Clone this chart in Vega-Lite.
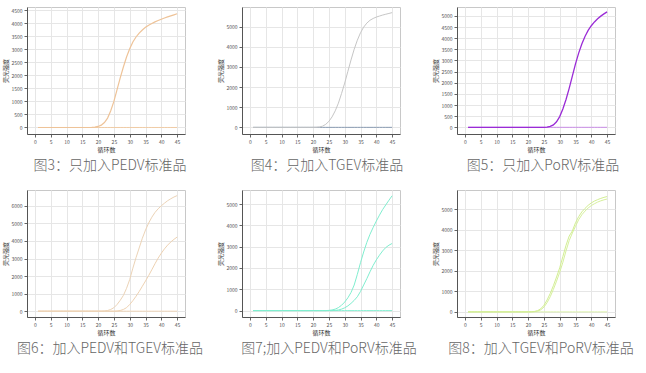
{
  "$schema": "https://vega.github.io/schema/vega-lite/v6.json",
  "background": "white",
  "padding": {"left": 2, "top": 6, "right": 5, "bottom": 5},
  "bounds": "flush",
  "columns": 3,
  "spacing": {"row": 56, "column": 57},
  "data": {"values": [
    {"c":1,"p3":0,"p4":0,"p5":0,"p6a":0,"p6b":0,"p7a":0,"p7b":0,"p8a":0,"p8b":0},
    {"c":2,"p3":0,"p4":0,"p5":0,"p6a":0,"p6b":0,"p7a":0,"p7b":0,"p8a":0,"p8b":0},
    {"c":3,"p3":0,"p4":0,"p5":0,"p6a":0,"p6b":0,"p7a":0,"p7b":0,"p8a":0,"p8b":0},
    {"c":4,"p3":0,"p4":0,"p5":0,"p6a":0,"p6b":0,"p7a":0,"p7b":0,"p8a":0,"p8b":0},
    {"c":5,"p3":0,"p4":0,"p5":0,"p6a":0,"p6b":0,"p7a":0,"p7b":0,"p8a":0,"p8b":0},
    {"c":6,"p3":0,"p4":0,"p5":0,"p6a":0,"p6b":0,"p7a":0,"p7b":0,"p8a":0,"p8b":0},
    {"c":7,"p3":0,"p4":0,"p5":0,"p6a":0,"p6b":0,"p7a":0,"p7b":0,"p8a":0,"p8b":0},
    {"c":8,"p3":0,"p4":0,"p5":0,"p6a":0,"p6b":0,"p7a":0,"p7b":0,"p8a":0,"p8b":0},
    {"c":9,"p3":0,"p4":0,"p5":0,"p6a":0,"p6b":0,"p7a":0,"p7b":0,"p8a":0,"p8b":0},
    {"c":10,"p3":0,"p4":0,"p5":0,"p6a":0,"p6b":0,"p7a":0,"p7b":0,"p8a":0,"p8b":0},
    {"c":11,"p3":0,"p4":0,"p5":0,"p6a":0,"p6b":0,"p7a":0,"p7b":0,"p8a":0,"p8b":0},
    {"c":12,"p3":0,"p4":0,"p5":0,"p6a":0,"p6b":0,"p7a":0,"p7b":0,"p8a":0,"p8b":0},
    {"c":13,"p3":0,"p4":0,"p5":0,"p6a":0,"p6b":0,"p7a":0,"p7b":0,"p8a":0,"p8b":0},
    {"c":14,"p3":0,"p4":0,"p5":0,"p6a":0,"p6b":0,"p7a":0,"p7b":0,"p8a":0,"p8b":0},
    {"c":15,"p3":0,"p4":0,"p5":0,"p6a":0,"p6b":0,"p7a":0,"p7b":0,"p8a":0,"p8b":0},
    {"c":16,"p3":0,"p4":0,"p5":0,"p6a":0,"p6b":0,"p7a":0,"p7b":0,"p8a":0,"p8b":0},
    {"c":17,"p3":0,"p4":0,"p5":0,"p6a":0,"p6b":0,"p7a":0,"p7b":0,"p8a":0,"p8b":0},
    {"c":18,"p3":5,"p4":0,"p5":0,"p6a":0,"p6b":0,"p7a":0,"p7b":0,"p8a":0,"p8b":0},
    {"c":19,"p3":15,"p4":0,"p5":0,"p6a":0,"p6b":0,"p7a":0,"p7b":0,"p8a":0,"p8b":0},
    {"c":20,"p3":40,"p4":0,"p5":0,"p6a":0,"p6b":0,"p7a":0,"p7b":0,"p8a":0,"p8b":0},
    {"c":21,"p3":90,"p4":5,"p5":0,"p6a":0,"p6b":0,"p7a":0,"p7b":0,"p8a":5,"p8b":0},
    {"c":22,"p3":190,"p4":20,"p5":0,"p6a":10,"p6b":0,"p7a":0,"p7b":0,"p8a":20,"p8b":10},
    {"c":23,"p3":360,"p4":60,"p5":0,"p6a":40,"p6b":0,"p7a":0,"p7b":0,"p8a":60,"p8b":35},
    {"c":24,"p3":640,"p4":150,"p5":0,"p6a":100,"p6b":0,"p7a":0,"p7b":0,"p8a":150,"p8b":100},
    {"c":25,"p3":1000,"p4":300,"p5":0,"p6a":200,"p6b":0,"p7a":10,"p7b":0,"p8a":320,"p8b":230},
    {"c":26,"p3":1450,"p4":520,"p5":10,"p6a":380,"p6b":10,"p7a":30,"p7b":0,"p8a":580,"p8b":450},
    {"c":27,"p3":1900,"p4":820,"p5":40,"p6a":620,"p6b":40,"p7a":70,"p7b":10,"p8a":900,"p8b":740},
    {"c":28,"p3":2320,"p4":1200,"p5":110,"p6a":900,"p6b":100,"p7a":140,"p7b":30,"p8a":1280,"p8b":1100},
    {"c":29,"p3":2700,"p4":1680,"p5":250,"p6a":1300,"p6b":200,"p7a":250,"p7b":70,"p8a":1700,"p8b":1500},
    {"c":30,"p3":3020,"p4":2200,"p5":480,"p6a":1800,"p6b":380,"p7a":400,"p7b":130,"p8a":2150,"p8b":1930},
    {"c":31,"p3":3280,"p4":2780,"p5":820,"p6a":2450,"p6b":600,"p7a":600,"p7b":220,"p8a":2700,"p8b":2420},
    {"c":32,"p3":3470,"p4":3350,"p5":1250,"p6a":3050,"p6b":850,"p7a":850,"p7b":340,"p8a":3250,"p8b":2980},
    {"c":33,"p3":3620,"p4":3880,"p5":1750,"p6a":3600,"p6b":1120,"p7a":1200,"p7b":480,"p8a":3700,"p8b":3480},
    {"c":34,"p3":3740,"p4":4330,"p5":2300,"p6a":4150,"p6b":1420,"p7a":1700,"p7b":650,"p8a":3950,"p8b":3850},
    {"c":35,"p3":3840,"p4":4700,"p5":2850,"p6a":4620,"p6b":1720,"p7a":2250,"p7b":900,"p8a":4350,"p8b":4180},
    {"c":36,"p3":3920,"p4":4980,"p5":3330,"p6a":5020,"p6b":2030,"p7a":2750,"p7b":1200,"p8a":4650,"p8b":4500},
    {"c":37,"p3":3990,"p4":5180,"p5":3740,"p6a":5350,"p6b":2360,"p7a":3200,"p7b":1500,"p8a":4880,"p8b":4740},
    {"c":38,"p3":4050,"p4":5320,"p5":4080,"p6a":5620,"p6b":2700,"p7a":3580,"p7b":1820,"p8a":5050,"p8b":4920},
    {"c":39,"p3":4100,"p4":5410,"p5":4350,"p6a":5830,"p6b":3020,"p7a":3900,"p7b":2120,"p8a":5200,"p8b":5070},
    {"c":40,"p3":4150,"p4":5480,"p5":4560,"p6a":6000,"p6b":3300,"p7a":4200,"p7b":2380,"p8a":5320,"p8b":5190},
    {"c":41,"p3":4200,"p4":5530,"p5":4730,"p6a":6150,"p6b":3550,"p7a":4480,"p7b":2600,"p8a":5410,"p8b":5280},
    {"c":42,"p3":4240,"p4":5580,"p5":4870,"p6a":6290,"p6b":3760,"p7a":4740,"p7b":2800,"p8a":5480,"p8b":5360},
    {"c":43,"p3":4280,"p4":5620,"p5":4990,"p6a":6400,"p6b":3940,"p7a":4960,"p7b":2960,"p8a":5540,"p8b":5420},
    {"c":44,"p3":4320,"p4":5660,"p5":5090,"p6a":6500,"p6b":4090,"p7a":5180,"p7b":3070,"p8a":5590,"p8b":5470},
    {"c":45,"p3":4360,"p4":5700,"p5":5180,"p6a":6580,"p6b":4220,"p7a":5390,"p7b":3150,"p8a":5630,"p8b":5510}
  ]},
  "concat": [
    {
      "width": 158, "height": 127,
      "title": {"text": "图3：只加入PEDV标准品", "orient": "bottom", "dx": 4},
      "encoding": {"x": {"field": "c", "type": "quantitative", "scale": {"domain": [-2.5, 47.5], "nice": false}, "axis": {"values": [0,5,10,15,20,25,30,35,40,45], "title": "循环数"}}},
      "layer": [
        {"mark": {"type": "line", "color": "#f0cba4", "strokeWidth": 1}, "encoding": {"y": {"datum": 0, "type": "quantitative", "scale": {"domain": [-250, 4620], "nice": false}, "axis": {"values": [0,500,1000,1500,2000,2500,3000,3500,4000,4500], "title": "荧光强度"}}}},
        {"mark": {"type": "line", "color": "#eec398", "strokeWidth": 1.2}, "encoding": {"y": {"field": "p3", "type": "quantitative", "scale": {"domain": [-250, 4620], "nice": false}, "axis": {"values": [0,500,1000,1500,2000,2500,3000,3500,4000,4500], "title": "荧光强度"}}}}
      ]
    },
    {
      "width": 158, "height": 127,
      "title": {"text": "图4：只加入TGEV标准品", "orient": "bottom", "dx": 6},
      "encoding": {"x": {"field": "c", "type": "quantitative", "scale": {"domain": [-2.5, 47.5], "nice": false}, "axis": {"values": [0,5,10,15,20,25,30,35,40,45], "title": "循环数"}}},
      "layer": [
        {"mark": {"type": "line", "color": "#8b9cb3", "strokeWidth": 1}, "encoding": {"y": {"datum": 0, "type": "quantitative", "scale": {"domain": [-330, 5980], "nice": false}, "axis": {"values": [0,1000,2000,3000,4000,5000], "title": "荧光强度"}}}},
        {"mark": {"type": "line", "color": "#c6c6c6", "strokeWidth": 1}, "encoding": {"y": {"field": "p4", "type": "quantitative", "scale": {"domain": [-330, 5980], "nice": false}, "axis": {"values": [0,1000,2000,3000,4000,5000], "title": "荧光强度"}}}}
      ]
    },
    {
      "width": 158, "height": 127,
      "title": {"text": "图5：只加入PoRV标准品", "orient": "bottom", "dx": 7},
      "encoding": {"x": {"field": "c", "type": "quantitative", "scale": {"domain": [-2.5, 47.5], "nice": false}, "axis": {"values": [0,5,10,15,20,25,30,35,40,45], "title": "循环数"}}},
      "layer": [
        {"mark": {"type": "line", "color": "#c98ce6", "strokeWidth": 1}, "encoding": {"y": {"datum": 0, "type": "quantitative", "scale": {"domain": [-300, 5400], "nice": false}, "axis": {"values": [0,500,1000,1500,2000,2500,3000,3500,4000,4500,5000], "title": "荧光强度"}}}},
        {"mark": {"type": "line", "color": "#9a2bd6", "strokeWidth": 1.3}, "encoding": {"y": {"field": "p5", "type": "quantitative", "scale": {"domain": [-300, 5400], "nice": false}, "axis": {"values": [0,500,1000,1500,2000,2500,3000,3500,4000,4500,5000], "title": "荧光强度"}}}}
      ]
    },
    {
      "width": 158, "height": 127,
      "title": {"text": "图6：加入PEDV和TGEV标准品", "orient": "bottom", "dx": 4},
      "encoding": {"x": {"field": "c", "type": "quantitative", "scale": {"domain": [-2.5, 47.5], "nice": false}, "axis": {"values": [0,5,10,15,20,25,30,35,40,45], "title": "循环数"}}},
      "layer": [
        {"mark": {"type": "line", "color": "#f0d6b8", "strokeWidth": 1}, "encoding": {"y": {"datum": 0, "type": "quantitative", "scale": {"domain": [-330, 6900], "nice": false}, "axis": {"values": [0,1000,2000,3000,4000,5000,6000], "title": "荧光强度"}}}},
        {"mark": {"type": "line", "color": "#eed2b2", "strokeWidth": 1}, "encoding": {"y": {"field": "p6b", "type": "quantitative", "scale": {"domain": [-330, 6900], "nice": false}, "axis": {"values": [0,1000,2000,3000,4000,5000,6000], "title": "荧光强度"}}}},
        {"mark": {"type": "line", "color": "#ecd3b6", "strokeWidth": 1}, "encoding": {"y": {"field": "p6a", "type": "quantitative", "scale": {"domain": [-330, 6900], "nice": false}, "axis": {"values": [0,1000,2000,3000,4000,5000,6000], "title": "荧光强度"}}}}
      ]
    },
    {
      "width": 158, "height": 127,
      "title": {"text": "图7;加入PEDV和PoRV标准品", "orient": "bottom", "dx": 8},
      "encoding": {"x": {"field": "c", "type": "quantitative", "scale": {"domain": [-2.5, 47.5], "nice": false}, "axis": {"values": [0,5,10,15,20,25,30,35,40,45], "title": "循环数"}}},
      "layer": [
        {"mark": {"type": "line", "color": "#86f0d2", "strokeWidth": 1}, "encoding": {"y": {"datum": 0, "type": "quantitative", "scale": {"domain": [-300, 5660], "nice": false}, "axis": {"values": [0,1000,2000,3000,4000,5000], "title": "荧光强度"}}}},
        {"mark": {"type": "line", "color": "#80eecf", "strokeWidth": 1}, "encoding": {"y": {"field": "p7b", "type": "quantitative", "scale": {"domain": [-300, 5660], "nice": false}, "axis": {"values": [0,1000,2000,3000,4000,5000], "title": "荧光强度"}}}},
        {"mark": {"type": "line", "color": "#80eecf", "strokeWidth": 1}, "encoding": {"y": {"field": "p7a", "type": "quantitative", "scale": {"domain": [-300, 5660], "nice": false}, "axis": {"values": [0,1000,2000,3000,4000,5000], "title": "荧光强度"}}}}
      ]
    },
    {
      "width": 158, "height": 127,
      "title": {"text": "图8：加入TGEV和PoRV标准品", "orient": "bottom", "dx": 5},
      "encoding": {"x": {"field": "c", "type": "quantitative", "scale": {"domain": [-2.5, 47.5], "nice": false}, "axis": {"values": [0,5,10,15,20,25,30,35,40,45], "title": "循环数"}}},
      "layer": [
        {"mark": {"type": "line", "color": "#dcf2aa", "strokeWidth": 1}, "encoding": {"y": {"datum": 0, "type": "quantitative", "scale": {"domain": [-250, 5950], "nice": false}, "axis": {"values": [0,1000,2000,3000,4000,5000], "title": "荧光强度"}}}},
        {"mark": {"type": "line", "color": "#d6f09c", "strokeWidth": 1}, "encoding": {"y": {"field": "p8b", "type": "quantitative", "scale": {"domain": [-250, 5950], "nice": false}, "axis": {"values": [0,1000,2000,3000,4000,5000], "title": "荧光强度"}}}},
        {"mark": {"type": "line", "color": "#d2ee92", "strokeWidth": 1}, "encoding": {"y": {"field": "p8a", "type": "quantitative", "scale": {"domain": [-250, 5950], "nice": false}, "axis": {"values": [0,1000,2000,3000,4000,5000], "title": "荧光强度"}}}}
      ]
    }
  ],
  "config": {
    "view": {"stroke": "#c8c8c8"},
    "axis": {
      "labelFontSize": 5, "titleFontSize": 6, "titleFontWeight": "normal",
      "labelFont": "Noto Sans CJK SC", "titleFont": "Noto Sans CJK SC",
      "labelColor": "#555", "titleColor": "#333",
      "domainColor": "#555", "tickColor": "#666", "tickSize": 3,
      "gridColor": "#e6e6e6", "grid": true, "labelPadding": 2, "titlePadding": 2,
      "labelOverlap": false, "format": "d"
    },
    "title": {"font": "Noto Sans CJK SC", "fontSize": 14, "fontWeight": 300, "color": "#666", "offset": 7, "anchor": "middle"}
  }
}
